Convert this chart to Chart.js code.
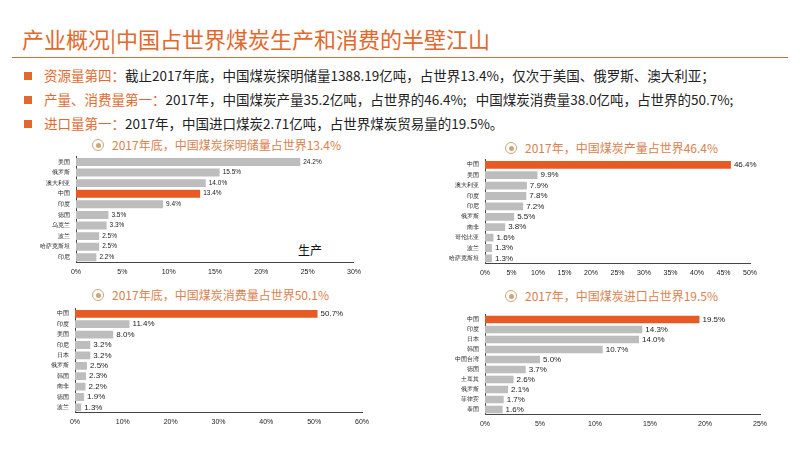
<!DOCTYPE html>
<html><head><meta charset="utf-8">
<script src="https://cdn.jsdelivr.net/npm/chart.js@4/dist/chart.umd.min.js"></script>
<style>
body{margin:0;width:800px;height:450px;background:#fff;font-family:"Noto Sans CJK SC",sans-serif;position:relative;overflow:hidden}
.h{position:absolute;left:22px;top:22px;font-size:22px;color:#e2692d}
.hl{position:absolute;left:12px;top:57px;width:776px;height:1px;background:#e2692d}
.b{position:absolute;left:24px;font-size:13.5px;color:#222;white-space:nowrap}
.b:before{content:"";display:inline-block;width:8px;height:8px;background:#e2692d;margin-right:12px;vertical-align:1px}
.b span{color:#e2692d}
.t{position:absolute;font-size:12px;color:#d9824f;white-space:nowrap}
.t i{font-style:normal;display:inline-block;width:10px;height:10px;border-radius:50%;border:1.5px solid #c9a77a;position:relative;margin-right:8px;vertical-align:-1px}
.t i:after{content:"";position:absolute;left:2.5px;top:2.5px;width:5px;height:5px;border-radius:50%;background:#c9a77a}
.c{position:absolute}
</style></head><body>
<div class="h">产业概况|中国占世界煤炭生产和消费的半壁江山</div>
<div class="hl"></div>
<div class="b" style="top:65px"><span>资源量第四：</span>截止2017年底，中国煤炭探明储量1388.19亿吨，占世界13.4%，仅次于美国、俄罗斯、澳大利亚；</div>
<div class="b" style="top:89px"><span>产量、消费量第一：</span>2017年，中国煤炭产量35.2亿吨，占世界的46.4%;&nbsp;&nbsp; 中国煤炭消费量38.0亿吨，占世界的50.7%;</div>
<div class="b" style="top:113px"><span>进口量第一：</span>2017年，中国进口煤炭2.71亿吨，占世界煤炭贸易量的19.5%。</div>
<div class="t" style="left:92px;top:136px"><i></i>2017年底，中国煤炭探明储量占世界13.4%</div>
<div class="t" style="left:505px;top:139px"><i></i>2017年，中国煤炭产量占世界46.4%</div>
<div class="t" style="left:92px;top:286px"><i></i>2017年底，中国煤炭消费量占世界50.1%</div>
<div class="t" style="left:505px;top:287px"><i></i>2017年，中国煤炭进口占世界19.5%</div>
<div style="position:absolute;left:298px;top:241px;font-size:12px;color:#111">生产</div>
<div class="c" style="left:36px;top:150px;width:327px;height:128px"><canvas id="c1"></canvas></div>
<div class="c" style="left:430px;top:153px;width:334px;height:126px"><canvas id="c2"></canvas></div>
<div class="c" style="left:36px;top:302px;width:336px;height:126px"><canvas id="c3"></canvas></div>
<div class="c" style="left:430px;top:308px;width:340px;height:122px"><canvas id="c4"></canvas></div>
<script>
const cats1=["美国","俄罗斯","澳大利亚","中国","印度","德国","乌克兰","波兰","哈萨克斯坦","印尼"];
const vals1=[24.2,15.5,14.0,13.4,9.4,3.5,3.3,2.5,2.5,2.2];
const cats2=["中国","美国","澳大利亚","印度","印尼","俄罗斯","南非","哥伦比亚","波兰","哈萨克斯坦"];
const vals2=[46.4,9.9,7.9,7.8,7.2,5.5,3.8,1.6,1.3,1.3];
const cats3=["中国","印度","美国","印尼","日本","俄罗斯","韩国","南非","德国","波兰"];
const vals3=[50.7,11.4,8.0,3.2,3.2,2.5,2.3,2.2,1.9,1.3];
const cats4=["中国","印度","日本","韩国","中国台湾","德国","土耳其","俄罗斯","菲律宾","泰国"];
const vals4=[19.5,14.3,14.0,10.7,5.0,3.7,2.6,2.1,1.7,1.6];
const lbl={id:'lbl',afterDatasetsDraw(ch,a,o){const c=ch.ctx;const m=ch.getDatasetMeta(0);c.save();c.font=o.size+'px "Liberation Sans",sans-serif';c.fillStyle='#222';c.textBaseline='middle';
m.data.forEach((b,i)=>{c.fillText(ch.data.datasets[0].data[i].toFixed(1)+'%',b.x+3,b.y);});c.restore();}};
function mk(id,cats,vals,max,step,ls,pr,yw){
 new Chart(document.getElementById(id),{type:'bar',plugins:[lbl],
 data:{labels:cats,datasets:[{data:vals,backgroundColor:cats.map(c=>c==='中国'?'#e85a24':'#bdbdbd'),barPercentage:0.75,categoryPercentage:1}]},
 options:{indexAxis:'y',responsive:true,maintainAspectRatio:false,animation:false,layout:{padding:{right:pr,top:0}},
 plugins:{legend:{display:false},tooltip:{enabled:false},lbl:{size:ls}},
 scales:{x:{min:0,max:max,ticks:{stepSize:step,callback:v=>v+'%',font:{size:7},color:'#222',padding:2},grid:{display:false,drawTicks:true,tickLength:3},border:{color:'#444'}},
 y:{afterFit:s=>{s.width=yw;},ticks:{autoSkip:false,font:{size:6},color:'#222',padding:3},grid:{display:false,tickLength:3},border:{color:'#444'}}}}});
}
mk('c1',cats1,vals1,30,5,6.5,8,40);
mk('c2',cats2,vals2,50,5,8,14,55);
mk('c3',cats3,vals3,60,10,8,10,39);
mk('c4',cats4,vals4,25,5,8,10,55);
</script></body></html>
